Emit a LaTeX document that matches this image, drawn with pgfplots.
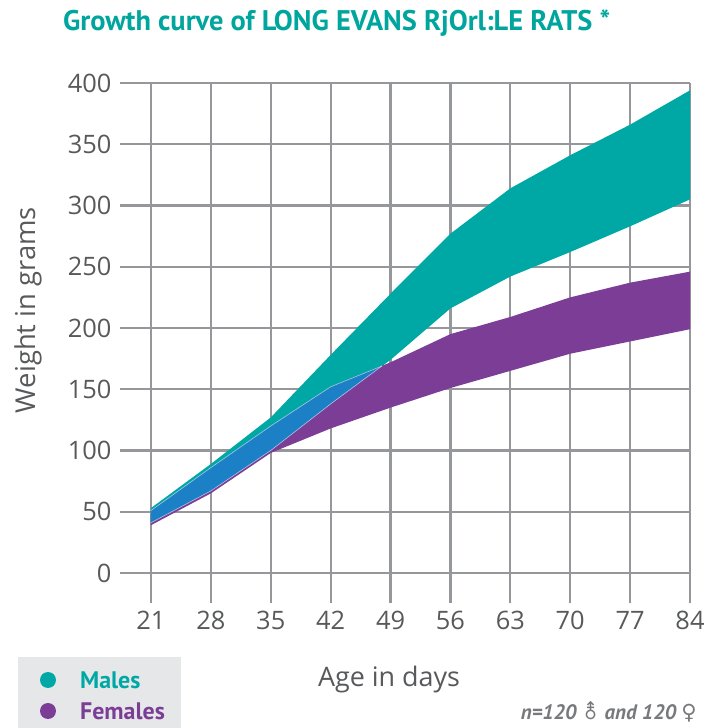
\documentclass[border=0pt]{standalone}
\usepackage{fontspec}
\setmainfont{PT Sans}
\newfontfamily\labfont{Open Sans}
\newfontfamily\symfont{DejaVu Sans}
\usepackage{pgfplots}
\pgfplotsset{compat=1.18}
\usepgfplotslibrary{fillbetween}
\definecolor{malecol}{RGB}{0,168,165}
\definecolor{femcol}{RGB}{123,61,150}
\definecolor{overcol}{RGB}{27,128,198}
\definecolor{gridgray}{RGB}{150,151,154}
\definecolor{labgray}{RGB}{88,89,91}
\definecolor{notegray}{RGB}{120,121,124}
\definecolor{titlecol}{RGB}{0,166,157}
\definecolor{legbg}{RGB}{230,231,232}
\begin{document}
\begin{tikzpicture}
\begin{axis}[
  at={(0bp,0bp)}, anchor=south west,
  scale only axis, width=570bp, height=520bp,
  xmin=17.38, xmax=84, ymin=-24.5, ymax=400,
  xtick={21,28,35,42,49,56,63,70,77,84},
  ytick={0,50,100,150,200,250,300,350,400},
  axis line style={draw=none},
  major tick length=0pt,
  grid=major,
  major grid style={color=gridgray, line width=2.3bp},
  /pgf/number format/assume math mode=true,
  tick label style={font=\labfont\fontsize{25.5}{29}\selectfont, text=labgray},
  yticklabel style={xshift=-5bp},
  xticklabel style={yshift=-5bp},
]
\addplot[draw=none, name path=mu, forget plot] coordinates {(21,53) (28,89) (35,127) (42,178) (49,228) (56,277) (63,314) (70,341) (77,366) (84,394)};
\addplot[draw=none, name path=ml, forget plot] coordinates {(21,41) (28,67) (35,100) (42,138) (49,174) (56,216) (63,242) (70,262) (77,283) (84,305)};
\addplot[draw=none, name path=fu, forget plot] coordinates {(21,51) (28,86) (35,120) (42,152) (49,172) (56,195) (63,209) (70,225) (77,237) (84,246)};
\addplot[draw=none, name path=fl, forget plot] coordinates {(21,39) (28,65) (35,98) (42,118) (49,135) (56,151) (63,165) (70,179) (77,189) (84,199)};
\addplot[draw=none, name path=bu, forget plot] coordinates {(21,51) (28,86) (35,120) (42,152) (48,169)};
\addplot[draw=none, name path=bl, forget plot] coordinates {(21,41) (28,67) (35,100) (42,138) (48,169)};
\addplot[fill=malecol, draw=none] fill between[of=mu and ml];
\addplot[fill=femcol, draw=none] fill between[of=fu and fl];
\addplot[fill=overcol, draw=none] fill between[of=bu and bl];
\addplot[white, opacity=0.6, line width=0.6bp] coordinates {(21,51) (28,86) (35,120) (42,152) (48,169)};
\addplot[white, opacity=0.6, line width=0.6bp] coordinates {(21,41) (28,67) (35,100) (42,138) (48,169)};
\end{axis}
% title
\node[anchor=west, text=titlecol, font=\bfseries\fontsize{28.5}{32}\selectfont, inner sep=0pt] at (-57bp,580bp) {Growth curve of LONG EVANS RjOrl:LE RATS *};
% axis labels
\node[rotate=90, text=labgray, font=\labfont\fontsize{27.5}{31}\selectfont, inner sep=0pt] at (-92bp,293bp) {Weight in grams};
\node[text=labgray, font=\labfont\fontsize{27}{31}\selectfont, inner sep=0pt] at (269bp,-77bp) {Age in days};
% legend
\fill[legbg] (-102bp,-54bp) rectangle (61bp,-125bp);
\fill[malecol] (-72bp,-77bp) circle (8bp);
\fill[femcol] (-72bp,-108bp) circle (8bp);
\node[anchor=west, text=malecol, font=\bfseries\fontsize{24}{28}\selectfont, inner sep=0pt] at (-40bp,-77bp) {Males};
\node[anchor=west, text=femcol, font=\bfseries\fontsize{24}{28}\selectfont, inner sep=0pt] at (-40bp,-108bp) {Females};
% note
\node[anchor=east, text=notegray, font=\bfseries\itshape\fontsize{21}{25}\selectfont, inner sep=0pt] at (577bp,-109bp) {n=120 {\symfont\upshape\mdseries ⚨} and 120 {\symfont\upshape\mdseries ♀}};
\path (-120bp,-125bp) rectangle (586bp,603bp);
\end{tikzpicture}
\end{document}
